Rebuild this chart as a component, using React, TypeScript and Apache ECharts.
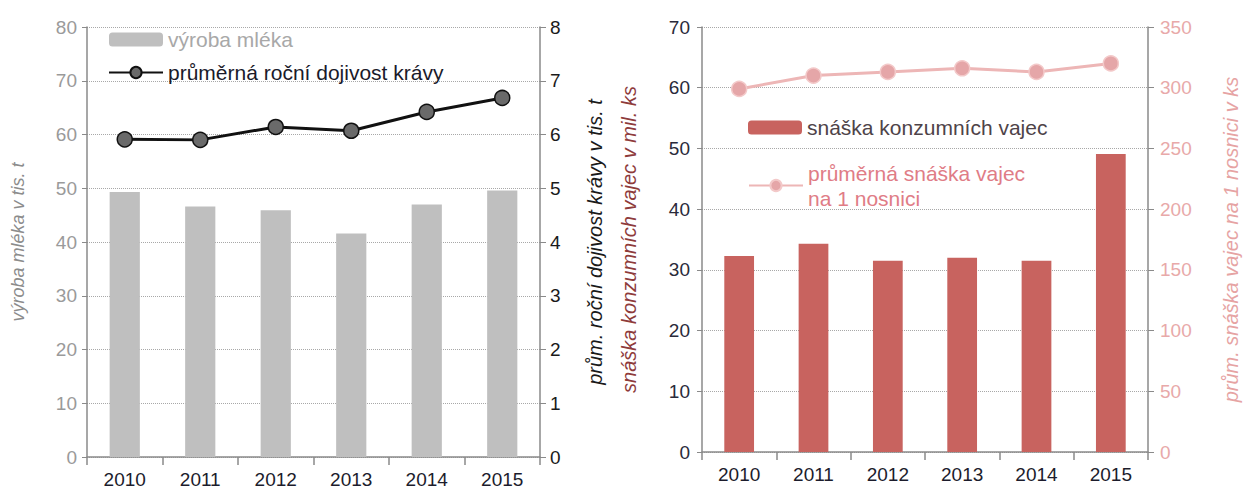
import React, { useEffect, useRef } from "react";
import * as echarts from "echarts";

const years = ["2010", "2011", "2012", "2013", "2014", "2015"];
const milkProduction = [49.3, 46.6, 45.9, 41.6, 47.0, 49.6];
const milkYield = [5.91, 5.9, 6.14, 6.07, 6.42, 6.68];
const eggProduction = [32.3, 34.3, 31.5, 32.0, 31.5, 49.1];
const eggsPerHen = [299, 310, 313, 316, 313, 320];

const milkName = "výroba mléka";
const yieldName = "průměrná roční dojivost krávy";
const eggName = "snáška konzumních vajec";
const henName = "průměrná snáška vajec na 1 nosnici";

const FONT = "'Liberation Sans', Arial, sans-serif";

export default function App() {
  const ref = useRef<HTMLDivElement>(null);
  useEffect(() => {
    if (!ref.current) return;
    const chart = echarts.init(ref.current, undefined, { renderer: "svg" });
    const axisLine = { show: true, lineStyle: { color: "#8a8a8a", width: 1.5 } };
    const split = { show: true, lineStyle: { color: "#a8a8a8", type: "dotted", width: 1 } };
    const xAxisCommon = {
      type: "category",
      data: years,
      boundaryGap: true,
      axisLine,
      axisTick: { show: true, alignWithLabel: false, length: 8, lineStyle: { color: "#8a8a8a", width: 1.5 } },
      axisLabel: { color: "#1c1c2c", fontSize: 19, fontFamily: FONT, margin: 13 },
      splitLine: { show: false },
    };
    const nameStyle = (color: string, size: number) => ({
      color,
      fontSize: size,
      fontStyle: "italic",
      fontFamily: FONT,
    });
    chart.setOption({
      animation: false,
      backgroundColor: "#ffffff",
      textStyle: { fontFamily: FONT },
      grid: [
        { left: 87, top: 27, width: 453, height: 430 },
        { left: 702, top: 27, width: 446, height: 425 },
      ],
      xAxis: [
        { ...xAxisCommon, gridIndex: 0 },
        { ...xAxisCommon, gridIndex: 1 },
      ],
      yAxis: [
        {
          gridIndex: 0,
          type: "value",
          position: "left",
          min: 0,
          max: 80,
          interval: 10,
          axisLine,
          axisTick: { show: true, length: 5, lineStyle: { color: "#8a8a8a" } },
          axisLabel: { color: "#9a9a9a", fontSize: 19, fontFamily: FONT, margin: 10 },
          splitLine: split,
          name: "výroba mléka v tis. t",
          nameLocation: "middle",
          nameRotate: 90,
          nameGap: 60,
          nameTextStyle: nameStyle("#8c8c8c", 18),
        },
        {
          gridIndex: 0,
          type: "value",
          position: "right",
          min: 0,
          max: 8,
          interval: 1,
          axisLine,
          axisTick: { show: true, length: 6, lineStyle: { color: "#8a8a8a" } },
          axisLabel: { color: "#1a1a1a", fontSize: 19, fontFamily: FONT, margin: 10 },
          splitLine: { show: false },
          name: "prům. roční dojivost krávy v tis. t",
          nameLocation: "middle",
          nameRotate: 90,
          nameGap: 45,
          nameTextStyle: nameStyle("#1a1a1a", 20),
        },
        {
          gridIndex: 1,
          type: "value",
          position: "left",
          min: 0,
          max: 70,
          interval: 10,
          axisLine,
          axisTick: { show: true, length: 5, lineStyle: { color: "#8a8a8a" } },
          axisLabel: { color: "#2a2a3a", fontSize: 19, fontFamily: FONT, margin: 12 },
          splitLine: split,
          name: "snáška konzumních vajec v mil. ks",
          nameLocation: "middle",
          nameRotate: 90,
          nameGap: 63,
          nameTextStyle: nameStyle("#8e3b3b", 20),
        },
        {
          gridIndex: 1,
          type: "value",
          position: "right",
          min: 0,
          max: 350,
          interval: 50,
          axisLine,
          axisTick: { show: true, length: 6, lineStyle: { color: "#8a8a8a" } },
          axisLabel: { color: "#e8a9a9", fontSize: 19, fontFamily: FONT, margin: 12 },
          splitLine: { show: false },
          name: "prům. snáška vajec na 1 nosnici v ks",
          nameLocation: "middle",
          nameRotate: 90,
          nameGap: 73,
          nameTextStyle: nameStyle("#e6a3a3", 20),
        },
      ],
      legend: [
        {
          orient: "vertical",
          left: 103,
          top: 24,
          itemWidth: 54,
          itemHeight: 14,
          itemGap: 12,
          padding: 5,
          textStyle: { fontSize: 21, fontFamily: FONT },
          data: [
            { name: milkName, textStyle: { color: "#a8a8a8" } },
            { name: yieldName, textStyle: { color: "#1a1a2a" } },
          ],
        },
        {
          orient: "vertical",
          left: 743,
          top: 112,
          itemWidth: 54,
          itemHeight: 14,
          padding: 5,
          textStyle: { fontSize: 21, fontFamily: FONT, color: "#4e4348" },
          data: [{ name: eggName }],
        },
        {
          orient: "vertical",
          left: 743,
          top: 143,
          itemWidth: 54,
          itemHeight: 14,
          padding: 5,
          formatter: () => "průměrná snáška vajec\nna 1 nosnici",
          textStyle: {
            fontSize: 21,
            fontFamily: FONT,
            color: "#e07c86",
            lineHeight: 25,
            padding: [25, 0, 0, 0],
          },
          data: [{ name: henName }],
        },
      ],
      series: [
        {
          name: milkName,
          type: "bar",
          xAxisIndex: 0,
          yAxisIndex: 0,
          barWidth: "40%",
          itemStyle: { color: "#bfbfbf" },
          data: milkProduction,
        },
        {
          name: yieldName,
          type: "line",
          xAxisIndex: 0,
          yAxisIndex: 1,
          symbol: "circle",
          symbolSize: 15,
          lineStyle: { color: "#111111", width: 3 },
          itemStyle: { color: "#6a6a6a", borderColor: "#111111", borderWidth: 1.5 },
          data: milkYield,
        },
        {
          name: eggName,
          type: "bar",
          xAxisIndex: 1,
          yAxisIndex: 2,
          barWidth: "40%",
          itemStyle: { color: "#c8635f" },
          data: eggProduction,
        },
        {
          name: henName,
          type: "line",
          xAxisIndex: 1,
          yAxisIndex: 3,
          symbol: "circle",
          symbolSize: 15,
          lineStyle: { color: "#edb6b6", width: 3 },
          itemStyle: { color: "#e5a6a8", borderColor: "#f3c9c9", borderWidth: 1.5 },
          data: eggsPerHen,
        },
      ],
    });
    return () => chart.dispose();
  }, []);
  return (
    <div
      ref={ref}
      style={{ position: "absolute", left: 0, top: 0, width: 1243, height: 492 }}
    />
  );
}
